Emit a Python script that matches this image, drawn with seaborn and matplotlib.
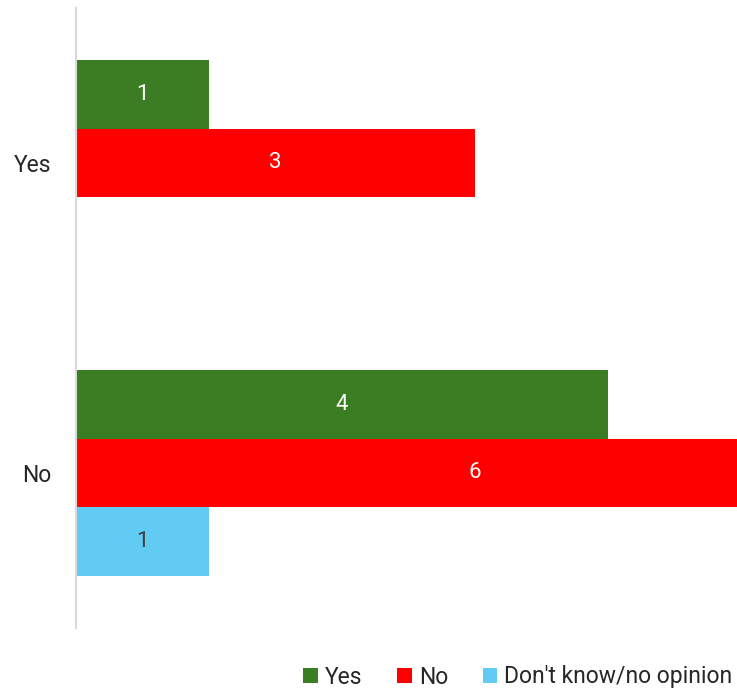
import pandas as pd
import numpy as np
import matplotlib
matplotlib.use('Agg')
import matplotlib.pyplot as plt
import seaborn as sns

# Data
categories = ['Yes', 'No']
answers = ['Yes', 'No', "Don't know/no opinion"]
yes_values = [1, 4]
no_values = [3, 6]
dk_values = [np.nan, 1]
colors = ['#3a7d22', '#ff0000', '#61cbf3']

sns.set_style('white')
plt.rcParams['font.family'] = ['Roboto', 'DejaVu Sans']

rows = []
for ans, vals in zip(answers, [yes_values, no_values, dk_values]):
    for cat, v in zip(categories, vals):
        rows.append({'Category': cat, 'Answer': ans, 'Count': v})
df = pd.DataFrame(rows)

fig = plt.figure(figsize=(7.37, 6.93), dpi=100)
ax = fig.add_axes([76 / 737, 1 - 628 / 693, 1 - 76 / 737, 620 / 693])

sns.barplot(data=df, y='Category', x='Count', hue='Answer', order=categories,
            hue_order=answers, palette=colors, width=2 / 3, orient='h',
            saturation=1, linewidth=0, ax=ax, legend=True)

ax.set_xlim(0, 4.97)
ax.set_ylim(1.5, -0.5)

# Value labels at the centre of each bar
for cont, ans in zip(ax.containers, answers):
    lbl_color = '#404040' if ans == "Don't know/no opinion" else 'white'
    for bar in cont:
        w = bar.get_width()
        if np.isnan(w) or w == 0:
            continue
        ax.text(w / 2, bar.get_y() + bar.get_height() / 2, f'{int(w)}',
                ha='center', va='center', color=lbl_color, fontsize=16)

ax.set_xlabel('')
ax.set_ylabel('')
ax.set_xticks([])
ax.tick_params(axis='y', length=0, labelsize=16.5, labelcolor='#262626', pad=18)
for s in ['top', 'right', 'bottom']:
    ax.spines[s].set_visible(False)
ax.spines['left'].set_color('#d9d9d9')
ax.spines['left'].set_linewidth(1.5)

handles, labels = ax.get_legend_handles_labels()
ax.get_legend().remove()
fig.legend(handles, labels, loc='center right', bbox_to_anchor=(1.0, 1 - 677 / 693),
           ncol=3, frameon=False, fontsize=16.5, handlelength=0.65, handleheight=0.65,
           handletextpad=0.3, columnspacing=1.5, labelcolor='#262626',
           borderaxespad=0.1, borderpad=0.1)

fig.savefig('out.png', dpi=100)
